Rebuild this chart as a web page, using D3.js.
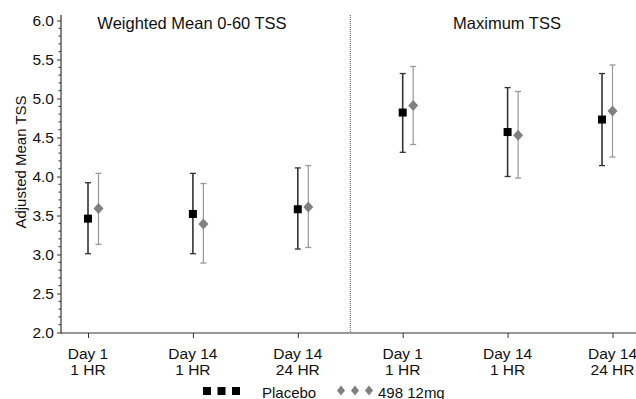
<!DOCTYPE html>
<html><head><meta charset="utf-8">
<script src="https://cdn.jsdelivr.net/npm/d3@7"></script>
<style>
body{margin:0;background:#fff;}
text{font-family:"Liberation Sans",Arial,sans-serif;fill:#111;}
</style></head>
<body><svg id="c" width="636" height="399"></svg>
<script>
const categories = ["W_D1_1","W_D14_1","W_D14_24","M_D1_1","M_D14_1","M_D14_24"];
const categoryLine1 = ["Day 1","Day 14","Day 14","Day 1","Day 14","Day 14"];
const categoryLine2 = ["1 HR","1 HR","24 HR","1 HR","1 HR","24 HR"];
const panelTitles = ["Weighted Mean 0-60 TSS","Maximum TSS"];
const placeboMean  = [3.46, 3.52, 3.58, 4.82, 4.57, 4.73];
const placeboUpper = [3.92, 4.04, 4.11, 5.32, 5.14, 5.32];
const placeboLower = [3.01, 3.01, 3.07, 4.31, 4.00, 4.14];
const drugMean  = [3.59, 3.39, 3.61, 4.91, 4.53, 4.84];
const drugUpper = [4.04, 3.91, 4.14, 5.41, 5.09, 5.43];
const drugLower = [3.13, 2.89, 3.09, 4.41, 3.98, 4.25];
const yTicks = [2.0,2.5,3.0,3.5,4.0,4.5,5.0,5.5,6.0];
const seriesNames = ["Placebo","498 12mg"];
const yTitle = "Adjusted Mean TSS";

const svg = d3.select("#c");
const mLeft = 61, mTop = 15, mBottom = 333, mRight = 636;
const y = d3.scaleLinear().domain([2,6]).range([332.5, 20.5]);
const x = d3.scalePoint().domain(categories).range([88, 612.5]);

// y axis
const yAxis = d3.axisLeft(y).tickValues(yTicks).tickFormat(d3.format(".1f")).tickSize(4).tickPadding(3);
const gy = svg.append("g").attr("transform",`translate(${mLeft},0)`).call(yAxis);
gy.select(".domain").remove();
gy.selectAll(".tick line").attr("stroke","#333");
gy.selectAll(".tick text").attr("font-size","15.5px").attr("font-family","Liberation Sans, Arial, sans-serif").attr("fill","#111");
// minor ticks
const minor = d3.range(2.0, 6.001, 0.1).filter(v => Math.abs(v*2 - Math.round(v*2)) > 1e-6);
svg.append("g").selectAll("line").data(minor).join("line")
  .attr("x1",mLeft-2.5).attr("x2",mLeft).attr("y1",d=>y(d)).attr("y2",d=>y(d)).attr("stroke","#333");
svg.append("line").attr("x1",mLeft).attr("x2",mLeft).attr("y1",mTop).attr("y2",mBottom+0.5).attr("stroke","#333").attr("stroke-width",1.2);

// x axis
const xAxis = d3.axisBottom(x).tickSize(5).tickFormat("");
const gx = svg.append("g").attr("transform",`translate(0,${mBottom})`).call(xAxis);
gx.select(".domain").remove();
gx.selectAll(".tick line").attr("stroke","#333");
svg.append("line").attr("x1",mLeft).attr("x2",mRight).attr("y1",mBottom).attr("y2",mBottom).attr("stroke","#333").attr("stroke-width",1.2);
const xl = svg.append("g").selectAll("text").data(categories).join("text")
  .attr("x",d=>x(d)).attr("text-anchor","middle").attr("font-size","15.5px");
xl.append("tspan").attr("x",d=>x(d)).attr("y",358.5).text((d,i)=>categoryLine1[i]);
xl.append("tspan").attr("x",d=>x(d)).attr("y",375).text((d,i)=>categoryLine2[i]);

// separator
const sepX = (x(categories[2]) + x(categories[3]))/2;
svg.append("line").attr("x1",sepX).attr("x2",sepX).attr("y1",mTop).attr("y2",mBottom)
  .attr("stroke","#555").attr("stroke-dasharray","1,1");

// panel titles
svg.append("text").attr("x",192).attr("y",28.5).attr("text-anchor","middle").attr("font-size","16.5px").text(panelTitles[0]);
svg.append("text").attr("x",507).attr("y",28.5).attr("text-anchor","middle").attr("font-size","16.5px").text(panelTitles[1]);

// y title
svg.append("text").attr("transform","translate(26,162) rotate(-90)").attr("text-anchor","middle").attr("font-size","15px").text(yTitle);

// dodge: drug to the right of the tick, except last group shifted left
const dodge = 10.5;
const pX = (i) => x(categories[i]) - (i === categories.length-1 ? dodge : 0);
const dX = (i) => pX(i) + dodge;

function drawSeries(mean, upper, lower, px, color, sw, marker){
  const g = svg.append("g");
  const idx = d3.range(mean.length);
  g.selectAll(".bar").data(idx).join("line").attr("x1",px).attr("x2",px)
    .attr("y1",i=>y(upper[i])).attr("y2",i=>y(lower[i])).attr("stroke",color).attr("stroke-width",sw);
  g.selectAll(".capT").data(idx).join("line").attr("x1",i=>px(i)-3).attr("x2",i=>px(i)+3)
    .attr("y1",i=>y(upper[i])).attr("y2",i=>y(upper[i])).attr("stroke",color).attr("stroke-width",1.3);
  g.selectAll(".capB").data(idx).join("line").attr("x1",i=>px(i)-3).attr("x2",i=>px(i)+3)
    .attr("y1",i=>y(lower[i])).attr("y2",i=>y(lower[i])).attr("stroke",color).attr("stroke-width",1.3);
  marker(g, idx.map(i=>[px(i), y(mean[i])]));
}
const square = (g, pts) => g.selectAll(".m").data(pts).join("rect")
  .attr("x",d=>d[0]-4).attr("y",d=>d[1]-4).attr("width",8).attr("height",8).attr("fill","#000");
const diamond = (g, pts) => g.selectAll(".m").data(pts).join("path")
  .attr("d",d=>`M${d[0]},${d[1]-5.5}L${d[0]+5},${d[1]}L${d[0]},${d[1]+5.5}L${d[0]-5},${d[1]}Z`).attr("fill","#808080");

drawSeries(placeboMean, placeboUpper, placeboLower, pX, "#333", 1.6, square);
drawSeries(drugMean, drugUpper, drugLower, dX, "#999", 1.2, diamond);

// legend
const lg = svg.append("g");
[207,221.5,236].forEach(cx => lg.append("rect").attr("x",cx-4).attr("y",387).attr("width",8).attr("height",8).attr("fill","#000"));
lg.append("text").attr("x",262).attr("y",397.5).attr("font-size","15px").text(seriesNames[0]);
[341,355,369].forEach(cx => lg.append("path").attr("d",`M${cx},${385.5}L${cx+4},${390.5}L${cx},${395.5}L${cx-4},${390.5}Z`).attr("fill","#808080"));
lg.append("text").attr("x",378).attr("y",397.5).attr("font-size","15px").text(seriesNames[1]);
</script></body></html>
